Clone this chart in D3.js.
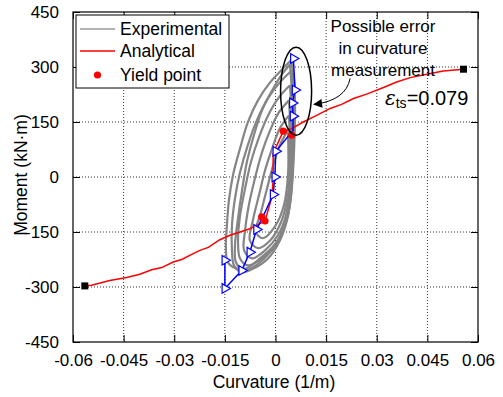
<!DOCTYPE html>
<html><head><meta charset="utf-8">
<script src="https://cdn.jsdelivr.net/npm/d3@7"></script>
<style>
body{margin:0;background:#fff;}
text{font-family:"Liberation Sans",Arial,sans-serif;}
</style></head>
<body><svg id="c" width="503" height="397"></svg>
<script>
// ---------- data ----------
const xTicks = [-0.06,-0.045,-0.03,-0.015,0,0.015,0.03,0.045,0.06];
const xTickLabels = ["-0.06","-0.045","-0.03","-0.015","0","0.015","0.03","0.045","0.06"];
const yTicks = [-450,-300,-150,0,150,300,450];
const yTickLabels = ["-450","-300","-150","0","150","300","450"];

// Experimental hysteresis loops [curvature, moment]
const loopA = [[0.0046,318],[0.0022,296],[-0.0016,258],[-0.0052,209],[-0.0082,149],[-0.0105,78],[-0.0126,5],[-0.0138,-64],[-0.0144,-132],[-0.0147,-194],[-0.0141,-233],[-0.0117,-249],[-0.0087,-249],[-0.0046,-222],[-0.0004,-186],[0.0025,-140],[0.0040,-91],[0.0049,-23],[0.0055,73],[0.0058,182],[0.0055,264],[0.0046,318]];
const loopB = [[0.0049,291],[0.0013,258],[-0.0022,215],[-0.0055,155],[-0.0082,87],[-0.0105,13],[-0.0120,-58],[-0.0129,-132],[-0.0129,-200],[-0.0123,-241],[-0.0099,-260],[-0.0064,-249],[-0.0022,-222],[0.0013,-173],[0.0034,-118],[0.0046,-50],[0.0052,46],[0.0055,155],[0.0052,236],[0.0049,291]];
const loopC = [[0.0043,250],[0.0010,217],[-0.0022,168],[-0.0049,108],[-0.0073,40],[-0.0090,-31],[-0.0105,-105],[-0.0111,-173],[-0.0105,-222],[-0.0082,-241],[-0.0040,-222],[0.0002,-186],[0.0028,-132],[0.0043,-64],[0.0049,32],[0.0049,141],[0.0043,250]];
const loopD = [[0.0040,209],[0.0010,176],[-0.0016,127],[-0.0040,67],[-0.0061,-4],[-0.0079,-77],[-0.0090,-145],[-0.0093,-200],[-0.0070,-222],[-0.0031,-200],[0.0007,-159],[0.0031,-105],[0.0043,-23],[0.0046,87],[0.0040,209]];
const loopE = [[0.0040,168],[0.0013,133],[-0.0010,78],[-0.0031,18],[-0.0049,-50],[-0.0067,-118],[-0.0076,-173],[-0.0052,-194],[-0.0016,-173],[0.0016,-124],[0.0034,-64],[0.0043,32],[0.0040,168]];
const loopF = [[0.0037,127],[0.0013,87],[-0.0007,32],[-0.0025,-31],[-0.0043,-96],[-0.0058,-151],[-0.0037,-167],[-0.0001,-134],[0.0025,-77],[0.0037,5],[0.0037,127]];
const loopG = [[0.0043,307],[0.0019,280],[-0.0010,236],[-0.0040,182],[-0.0064,114],[-0.0085,40],[-0.0099,-36],[-0.0111,-113],[-0.0120,-186],[-0.0117,-233],[-0.0093,-255],[-0.0058,-241],[-0.0016,-205],[0.0019,-151],[0.0040,-77],[0.0049,18],[0.0052,127],[0.0049,223],[0.0043,307]];

// Analytical moment-curvature
const analytical = [[-0.0565,-297],[-0.0545,-295],[-0.0491,-282],[-0.0441,-274],[-0.0402,-265],[-0.0367,-253],[-0.0337,-247],[-0.0303,-232],[-0.0278,-225],[-0.0248,-211],[-0.0224,-200],[-0.0199,-192],[-0.0165,-171],[-0.0135,-159],[-0.0105,-150],[-0.0076,-141],[-0.0046,-127],[-0.0031,-120],[-0.0011,-55],[-0.0007,-9],[-0.0007,64],[0.0023,125],[0.0048,132],[0.0082,150],[0.0122,168],[0.0162,187],[0.0196,198],[0.0231,214],[0.0270,226],[0.0320,244],[0.0359,259],[0.0399,271],[0.0448,280],[0.0497,289],[0.0557,294]];
const ultimatePoints = [[-0.0565,-297],[0.0557,294]];
const yieldPoints = [[0.0023,125],[0.0048,114],[-0.0041,-109],[-0.0031,-120]];

// Experimental backbone (blue)
const backbone = [[0.0053,323],[0.0058,237],[0.0050,202],[0.0052,166],[0.0052,127],[0.0001,70],[-0.0002,0],[-0.0007,-48],[-0.0031,-96],[-0.0056,-143],[-0.0076,-205],[-0.0100,-255],[-0.0150,-304],[-0.0150,-227]];
const backboneMarkers = [[0.0053,323],[0.0058,237],[0.0050,202],[0.0052,166],[0.0001,70],[-0.0002,0],[-0.0007,-48],[-0.0056,-143],[-0.0076,-205],[-0.0100,-255],[-0.0150,-304],[-0.0150,-227]];

const legendLabels = ["Experimental","Analytical","Yield point"];
const annotationLines = ["Possible error","in curvature","measurement"];
// annotation geometry in data units
const ellipseCenter = [0.0061,234], ellipseRadii = [0.0046,120];
const arrowPath = [[0.0221,269],[0.0209,209],[0.0114,198]];

// ---------- drawing ----------
const svg = d3.select("#c");
const L=73,R=478,T=12,B=342;
const x = d3.scaleLinear().domain([-0.06,0.06]).range([L,R]);
const y = d3.scaleLinear().domain([-450,450]).range([B,T]);
const FS = 17;

// grid
const g = svg.append("g");
g.selectAll(".gx").data(xTicks.slice(1,-1)).join("line")
 .attr("x1",d=>x(d)).attr("x2",d=>x(d)).attr("y1",T).attr("y2",B)
 .attr("stroke","#333").attr("stroke-width",1).attr("stroke-dasharray","1,2");
g.selectAll(".gy").data(yTicks.slice(1,-1)).join("line")
 .attr("y1",d=>y(d)).attr("y2",d=>y(d)).attr("x1",L).attr("x2",R)
 .attr("stroke","#333").attr("stroke-width",1).attr("stroke-dasharray","1,2");

// axes
const tickLen = 7;
const ax = svg.append("g").attr("transform",`translate(0,${B})`)
 .call(d3.axisBottom(x).tickValues(xTicks).tickFormat((d,i)=>xTickLabels[i]).tickSizeInner(-tickLen).tickSizeOuter(0).tickPadding(12));
const ax2 = svg.append("g").attr("transform",`translate(0,${T})`)
 .call(d3.axisTop(x).tickValues(xTicks).tickFormat("").tickSizeInner(-tickLen).tickSizeOuter(0));
const ay = svg.append("g").attr("transform",`translate(${L},0)`)
 .call(d3.axisLeft(y).tickValues(yTicks).tickFormat((d,i)=>yTickLabels[i]).tickSizeInner(-tickLen).tickSizeOuter(0).tickPadding(14));
const ay2 = svg.append("g").attr("transform",`translate(${R},0)`)
 .call(d3.axisRight(y).tickValues(yTicks).tickFormat("").tickSizeInner(-tickLen).tickSizeOuter(0));
[ax,ax2,ay,ay2].forEach(a=>{
  a.select(".domain").remove();
  a.selectAll(".tick line").attr("stroke","#000").attr("stroke-width",1);
  a.selectAll("text").attr("font-size",FS).attr("font-family","Liberation Sans, Arial, sans-serif").attr("fill","#000");
});
svg.append("rect").attr("x",L).attr("y",T).attr("width",R-L).attr("height",B-T)
 .attr("fill","none").attr("stroke","#000").attr("stroke-width",1.2);

// plot clip
svg.append("clipPath").attr("id","clip").append("rect").attr("x",L).attr("y",T).attr("width",R-L).attr("height",B-T);
const plot = svg.append("g").attr("clip-path","url(#clip)");

const line = d3.line().x(d=>x(d[0])).y(d=>y(d[1]));
const smooth = d3.line().x(d=>x(d[0])).y(d=>y(d[1])).curve(d3.curveCatmullRom.alpha(0.5));

// experimental loops
[loopA,loopB,loopC,loopD,loopE,loopF,loopG].forEach(lp=>{
  plot.append("path").attr("d",smooth(lp)).attr("fill","none")
   .attr("stroke","#858585").attr("stroke-width",2.2).attr("stroke-linejoin","round");
});

// analytical
plot.append("path").attr("d",line(analytical)).attr("fill","none").attr("stroke","#ff0000").attr("stroke-width",1.5);

// backbone blue
plot.append("path").attr("d",line(backbone)).attr("fill","none").attr("stroke","#0000ff").attr("stroke-width",1.5);
const tri = d3.symbol().type(d3.symbolTriangle).size(40);
plot.selectAll(".bm").data(backboneMarkers).join("path")
 .attr("d",tri).attr("transform",d=>`translate(${x(d[0])},${y(d[1])}) rotate(90)`)
 .attr("fill","#fff").attr("stroke","#0000ff").attr("stroke-width",1.2);

// yield points
plot.selectAll(".yp").data(yieldPoints).join("circle")
 .attr("cx",d=>x(d[0])).attr("cy",d=>y(d[1])).attr("r",3.6).attr("fill","#ff0000");

// ultimate squares
plot.selectAll(".up").data(ultimatePoints).join("rect")
 .attr("x",d=>x(d[0])-3.5).attr("y",d=>y(d[1])-3.5).attr("width",7).attr("height",7).attr("fill","#000");

// ellipse
svg.append("ellipse").attr("cx",x(ellipseCenter[0])).attr("cy",y(ellipseCenter[1]))
 .attr("rx",x(ellipseCenter[0]+ellipseRadii[0])-x(ellipseCenter[0]))
 .attr("ry",y(ellipseCenter[1]-ellipseRadii[1])-y(ellipseCenter[1]))
 .attr("fill","none").attr("stroke","#000").attr("stroke-width",1.5);

// arrow
svg.append("defs").append("marker").attr("id","ah").attr("viewBox","0 0 10 10")
 .attr("refX",9).attr("refY",5).attr("markerWidth",14).attr("markerHeight",9)
 .attr("markerUnits","userSpaceOnUse").attr("orient","auto")
 .append("path").attr("d","M0,0 L10,5 L0,10 z").attr("fill","#000");
const ap = arrowPath.map(d=>[x(d[0]),y(d[1])]);
svg.append("path").attr("d",`M${ap[0][0]},${ap[0][1]} Q${ap[1][0]},${ap[1][1]} ${ap[2][0]},${ap[2][1]}`)
 .attr("fill","none").attr("stroke","#000").attr("stroke-width",1).attr("marker-end","url(#ah)");

// annotation text
svg.selectAll(".an").data(annotationLines).join("text")
 .attr("x",383).attr("y",(d,i)=>32+i*22).attr("text-anchor","middle")
 .attr("font-size",FS).attr("fill","#000").text(d=>d);

const eps = svg.append("text").attr("x",385).attr("y",105).attr("font-size",20).attr("fill","#000");
eps.append("tspan").attr("font-style","italic").attr("font-family","DejaVu Serif, serif").text("ε");
eps.append("tspan").attr("font-size",14).attr("dy",3).text("ts");
eps.append("tspan").attr("dy",-3).text("=0.079");

// legend
const lg = svg.append("g");
lg.append("rect").attr("x",76).attr("y",15).attr("width",153).attr("height",73)
 .attr("fill","#fff").attr("stroke","#000").attr("stroke-width",1);
const ly = [29,51,75];
lg.append("line").attr("x1",80).attr("x2",115).attr("y1",ly[0]).attr("y2",ly[0]).attr("stroke","#999").attr("stroke-width",1.5);
lg.append("line").attr("x1",80).attr("x2",115).attr("y1",ly[1]).attr("y2",ly[1]).attr("stroke","#ff0000").attr("stroke-width",1.5);
lg.append("circle").attr("cx",97.5).attr("cy",ly[2]).attr("r",3.6).attr("fill","#ff0000");
lg.selectAll(".lt").data(legendLabels).join("text")
 .attr("x",120).attr("y",(d,i)=>ly[i]+6).attr("font-size",FS+0.5).attr("fill","#000").text(d=>d);

// axis titles
svg.append("text").attr("x",274).attr("y",388).attr("text-anchor","middle").attr("font-size",FS+0.5).text("Curvature (1/m)");
svg.append("text").attr("transform",`translate(27,175) rotate(-90)`).attr("text-anchor","middle").attr("font-size",FS+0.5).text("Moment (kN·m)");
</script></body></html>
